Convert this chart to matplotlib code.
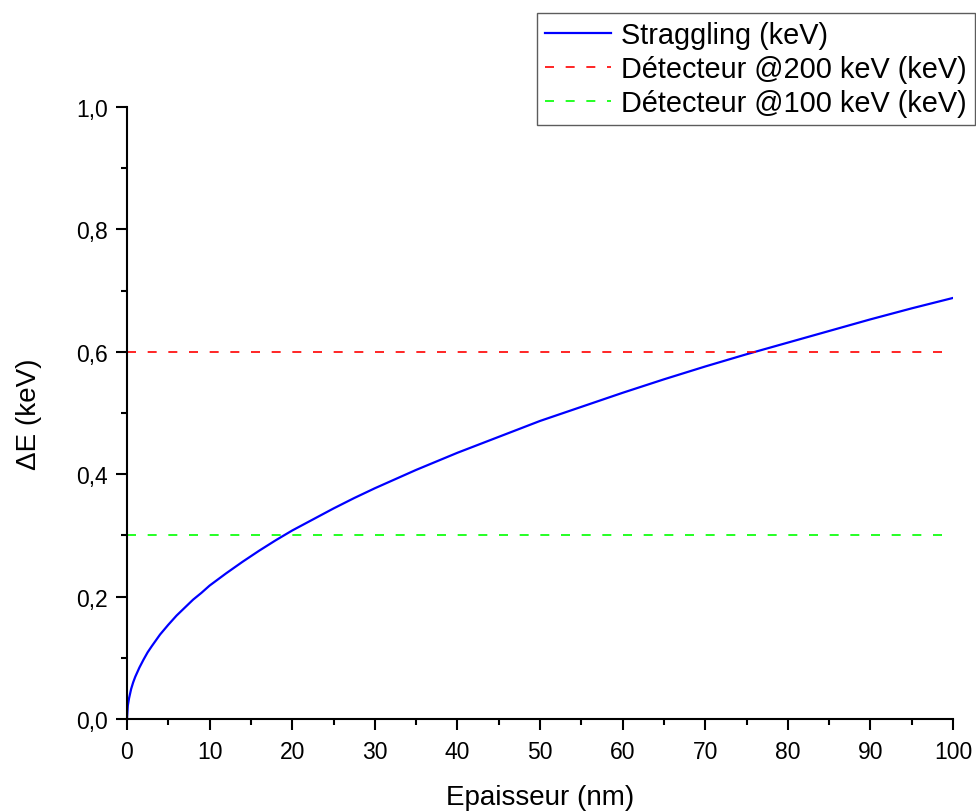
import matplotlib
matplotlib.use("Agg")
import matplotlib.pyplot as plt
from matplotlib.ticker import MultipleLocator, FuncFormatter

plt.rcParams['font.family'] = ['Liberation Sans', 'DejaVu Sans']

thickness = [0, 0.1, 0.25, 0.5, 0.75, 1, 1.5, 2, 2.5, 3, 4, 5, 6, 7, 8, 9, 10,
             12, 14, 16, 18, 20, 22.5, 25, 27.5, 30, 32.5, 35, 37.5, 40, 42.5,
             45, 47.5, 50, 55, 60, 65, 70, 75, 80, 85, 90, 95, 100]
straggling = [0, 0.022, 0.034, 0.049, 0.060, 0.069, 0.084, 0.097, 0.109, 0.119,
              0.138, 0.154, 0.169, 0.182, 0.195, 0.206, 0.218, 0.238, 0.257,
              0.275, 0.292, 0.308, 0.326, 0.344, 0.361, 0.377, 0.392, 0.407,
              0.421, 0.435, 0.448, 0.461, 0.474, 0.487, 0.510, 0.533, 0.555,
              0.576, 0.596, 0.615, 0.634, 0.653, 0.671, 0.688]
det_x = [0, 100]
det200 = [0.6, 0.6]
det100 = [0.3, 0.3]

fig = plt.figure(figsize=(9.76, 8.12), dpi=100)
ax = fig.add_axes([127/976, 1-720/812, (953-127)/976, (720-108)/812])

ax.plot(thickness, straggling, color='#0000ff', lw=1.6, label='Straggling (keV)')
ax.plot(det_x, det200, color='#ff0000', lw=1.2, ls=(0, (5.4, 7.0)), label='Détecteur @200 keV (keV)')
ax.plot(det_x, det100, color='#00ff00', lw=1.2, ls=(0, (5.4, 7.0)), label='Détecteur @100 keV (keV)')

ax.set_xlim(0, 100)
ax.set_ylim(0, 1.0)
ax.xaxis.set_major_locator(MultipleLocator(10))
ax.xaxis.set_minor_locator(MultipleLocator(5))
ax.yaxis.set_major_locator(MultipleLocator(0.2))
ax.yaxis.set_minor_locator(MultipleLocator(0.1))
ax.yaxis.set_major_formatter(FuncFormatter(lambda v, p: f"{v:.1f}".replace('.', ',')))

for s in ['top', 'right']:
    ax.spines[s].set_visible(False)
for s in ['left', 'bottom']:
    ax.spines[s].set_linewidth(1.5)
ax.tick_params(which='major', direction='out', length=8, width=1.5, labelsize=16.5)
ax.tick_params(axis='y', which='major', pad=6)
ax.tick_params(axis='x', which='major', pad=7)
ax.tick_params(which='minor', direction='out', length=4.5, width=1.5)

ax.set_xlabel('Epaisseur (nm)', fontsize=20, labelpad=15)
ax.set_ylabel('ΔE (keV)', fontsize=20, labelpad=24)

leg = fig.legend(loc='upper right', bbox_to_anchor=(975/976, 1-14/812),
                 fontsize=20.8, handlelength=2.3, handletextpad=0.35,
                 borderpad=0.28, labelspacing=0.2, frameon=True, fancybox=False,
                 borderaxespad=0)
leg.get_frame().set_edgecolor('#333333')
leg.get_frame().set_linewidth(1.0)

fig.savefig('out.png', dpi=100)
